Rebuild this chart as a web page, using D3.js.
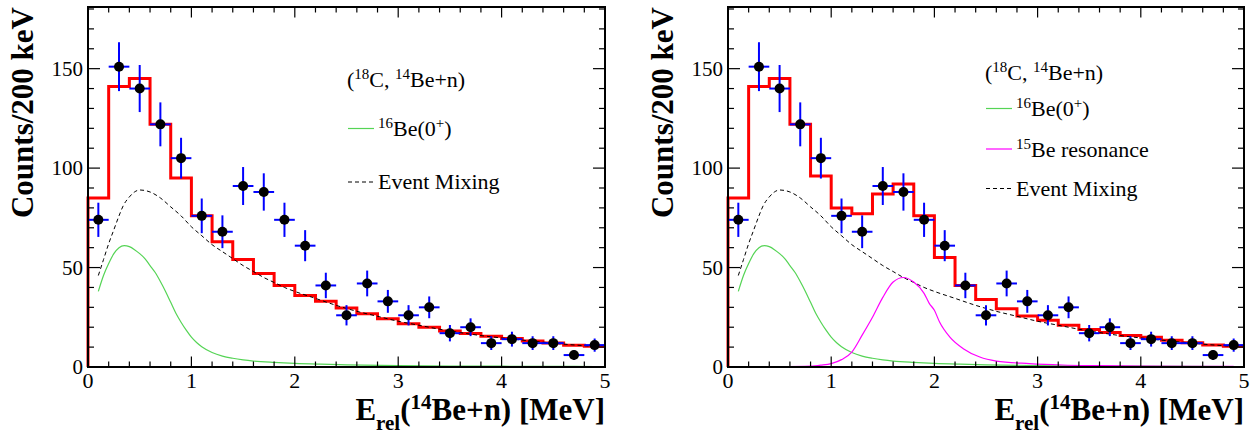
<!DOCTYPE html>
<html><head><meta charset="utf-8">
<script src="https://cdn.jsdelivr.net/npm/d3@7"></script>
<style>
body{margin:0;background:#fff}
svg{display:block}
text{font-family:"Liberation Serif","Times New Roman",Times,serif;fill:#000}
</style>
</head><body>
<svg id="c" width="1257" height="435"></svg>
<script>
// ---------- data ----------
const binEdges = [0,0.2,0.4,0.6,0.8,1.0,1.2,1.4,1.6,1.8,2.0,2.2,2.4,2.6,2.8,3.0,3.2,3.4,3.6,3.8,4.0,4.2,4.4,4.6,4.8,5.0];
const counts = [74,151,140,122,105,76,68,91,88,74,61,41,26,42,33,26,30,17,20,12,14,12,12,6,11];
const fitLeft  = [85,141,145,122,95,76,63,54,47,41,36,33,29.7,26.8,24.3,21.8,20,18.1,16.8,15.4,14.3,13.1,12.1,10.9,10.4];
const fitRight = [85,141,145,122,96,80,77,87,92,76,55,41,33.9,29.3,25.6,23.5,21,18.8,17.3,15.9,15,13.4,12.2,11,10.4];
const mixX = [0.1,0.15,0.2,0.25,0.3,0.34,0.4,0.45,0.5,0.6,0.7,0.8,0.9,1.0,1.1,1.2,1.3,1.4,1.5,1.6,1.7,1.8,1.9,2.0,2.2,2.4,2.6,2.8,3.0,3.2,3.4,3.6,3.8,4.0,4.2,4.4,4.6,4.8,4.9];
const mixY = [46,54,62,69,76,81,85.5,88,89,88,85,80.5,76,70.5,66,61.5,58,54.5,51,48,45,42.5,40,38,34.5,31,28,25.5,23,21,19,17.3,15.8,14.6,13.5,12.5,11.5,10.7,10.3];
const be16X = [0.1,0.15,0.2,0.25,0.3,0.35,0.4,0.45,0.5,0.55,0.6,0.65,0.7,0.75,0.8,0.85,0.9,0.95,1.0,1.05,1.1,1.2,1.3,1.4,1.5,1.6,1.8,2.0,2.25,2.5,3.0,3.5,4.0,4.5,4.9];
const be16Y = [38,46,52,57,60,61,60.5,59,57,54.5,51,47.5,43,38,32.5,27,22.5,18.5,15,12.3,10.2,7.3,5.5,4.4,3.6,3.0,2.3,1.8,1.4,1.1,0.7,0.5,0.4,0.3,0.25];
const be15X = [0.1,0.5,0.8,0.9,1.0,1.1,1.2,1.3,1.4,1.5,1.6,1.7,1.8,1.9,1.95,2.0,2.05,2.15,2.28,2.44,2.6,2.92,3.24,3.6,4.0,4.5,4.9];
const be15Y = [0,0.1,0.4,0.9,1.7,3.7,7.5,16,25,35,42.7,45,42.7,37,32,28.5,22.6,15,9.2,5,3,1.7,1.0,0.7,0.5,0.35,0.3];
const xTicks = [0,1,2,3,4,5];
const yTicks = [0,50,100,150];

// ---------- drawing ----------
const svg = d3.select("#c");
const yTop = 7, yBot = 367;
const yMax = 181;

const panels = [
  {left:88, right:605, fit:fitLeft, be15:false,
   leg:{tx:347, ty:87, items:[
     {type:"green", ly:128.5, ty:136, label:"be16"},
     {type:"dash", ly:182, ty:189, label:"mix"}]}},
  {left:728, right:1244, fit:fitRight, be15:true,
   leg:{tx:985, ty:80, items:[
     {type:"green", ly:108.5, ty:116, label:"be16"},
     {type:"magenta", ly:149, ty:157, label:"be15"},
     {type:"dash", ly:188.5, ty:196, label:"mix"}]}}
];

const colors = {green:"#55d455", magenta:"#ff00ff", dash:"#000"};

panels.forEach(p => {
  const x = d3.scaleLinear().domain([0,5]).range([p.left, p.right]);
  const y = d3.scaleLinear().domain([0,yMax]).range([yBot, yTop]);
  const g = svg.append("g");

  // histogram (fit sum)
  const pts = [[binEdges[0],0]];
  p.fit.forEach((v,i) => { pts.push([binEdges[i],v]); pts.push([binEdges[i+1],v]); });
  const line = d3.line().x(d=>x(d[0])).y(d=>y(d[1]));
  g.append("path").attr("d", line(pts)).attr("fill","none")
    .attr("stroke","#ff0000").attr("stroke-width",3).attr("stroke-linejoin","miter");

  const curve = d3.line().x(d=>x(d[0])).y(d=>y(d[1])).curve(d3.curveMonotoneX);
  g.append("path").attr("d", curve(mixX.map((v,i)=>[v,mixY[i]]))).attr("fill","none")
    .attr("stroke","#000").attr("stroke-width",1).attr("stroke-dasharray","4,3");
  g.append("path").attr("d", curve(be16X.map((v,i)=>[v,be16Y[i]]))).attr("fill","none")
    .attr("stroke",colors.green).attr("stroke-width",1.2);
  if (p.be15) {
    g.append("path").attr("d", curve(be15X.map((v,i)=>[v,be15Y[i]]))).attr("fill","none")
      .attr("stroke",colors.magenta).attr("stroke-width",1.2);
  }

  // data points with errors
  counts.forEach((c,i) => {
    const lo = binEdges[i], hi = binEdges[i+1], cx = (lo+hi)/2, e = Math.sqrt(c);
    g.append("line").attr("x1",x(lo)).attr("x2",x(hi)).attr("y1",y(c)).attr("y2",y(c))
      .attr("stroke","#0000ff").attr("stroke-width",2);
    g.append("line").attr("x1",x(cx)).attr("x2",x(cx)).attr("y1",y(c-e)).attr("y2",y(c+e))
      .attr("stroke","#0000ff").attr("stroke-width",2);
    g.append("circle").attr("cx",x(cx)).attr("cy",y(c)).attr("r",5).attr("fill","#000");
  });

  // ticks (all four sides, inside)
  const tk = svg.append("g").attr("stroke","#000").attr("stroke-width",1.2);
  const xMinor = d3.range(0,5.0001,0.2);
  xMinor.forEach(v => {
    const major = Math.abs(v - Math.round(v)) < 1e-6;
    const L = major ? 10.5 : 5.5;
    tk.append("line").attr("x1",x(v)).attr("x2",x(v)).attr("y1",yBot).attr("y2",yBot-L);
    tk.append("line").attr("x1",x(v)).attr("x2",x(v)).attr("y1",yTop).attr("y2",yTop+L);
  });
  d3.range(0,yMax,10).forEach(v => {
    const major = v % 50 === 0;
    const L = major ? 12 : 6;
    tk.append("line").attr("y1",y(v)).attr("y2",y(v)).attr("x1",p.left).attr("x2",p.left+L);
    tk.append("line").attr("y1",y(v)).attr("y2",y(v)).attr("x1",p.right).attr("x2",p.right-L);
  });

  // frame
  svg.append("rect").attr("x",p.left).attr("y",yTop).attr("width",p.right-p.left).attr("height",yBot-yTop)
    .attr("fill","none").attr("stroke","#000").attr("stroke-width",2);

  // tick labels
  xTicks.forEach(v => svg.append("text").attr("x",x(v)).attr("y",388).attr("text-anchor","middle")
    .attr("font-size",22).text(d3.format("d")(v)));
  yTicks.forEach(v => svg.append("text").attr("x",p.left-5).attr("y",y(v)).attr("dy","0.35em")
    .attr("text-anchor","end").attr("font-size",21).text(d3.format("d")(v)));

  // axis titles
  svg.append("text").attr("transform",`translate(${p.left-55},${yTop}) rotate(-90)`)
    .attr("text-anchor","end").attr("font-size",31).attr("font-weight","bold").text("Counts/200 keV");
  const xt = svg.append("text").attr("x",p.right).attr("y",420).attr("text-anchor","end")
    .attr("font-size",31).attr("font-weight","bold");
  xt.append("tspan").text("E");
  xt.append("tspan").attr("font-size",21).attr("dy",10).text("rel");
  xt.append("tspan").attr("dy",-10).text("(");
  xt.append("tspan").attr("font-size",21).attr("dy",-11).text("14");
  xt.append("tspan").attr("dy",11).text("Be+n) [MeV]");

  // legend
  const lt = svg.append("text").attr("x",p.leg.tx).attr("y",p.leg.ty).attr("font-size",22);
  lt.append("tspan").text("(");
  lt.append("tspan").attr("font-size",15).attr("dy",-8).text("18");
  lt.append("tspan").attr("dy",8).text("C, ");
  lt.append("tspan").attr("font-size",15).attr("dy",-8).text("14");
  lt.append("tspan").attr("dy",8).text("Be+n)");

  p.leg.items.forEach(it => {
    const lx0 = p.leg.tx + 1, lx1 = p.leg.tx + 27;
    const ln = svg.append("line").attr("x1",lx0).attr("x2",lx1).attr("y1",it.ly).attr("y2",it.ly)
      .attr("stroke",colors[it.type]).attr("stroke-width",1.2);
    if (it.type === "dash") ln.attr("stroke-dasharray","4,3").attr("stroke-width",1);
    const t = svg.append("text").attr("x",p.leg.tx + 31).attr("y",it.ty).attr("font-size",22);
    if (it.label === "be16") {
      t.append("tspan").attr("font-size",15).attr("dy",-8).text("16");
      t.append("tspan").attr("dy",8).text("Be(0");
      t.append("tspan").attr("font-size",15).attr("dy",-8).text("+");
      t.append("tspan").attr("dy",8).text(")");
    } else if (it.label === "be15") {
      t.append("tspan").attr("font-size",15).attr("dy",-8).text("15");
      t.append("tspan").attr("dy",8).text("Be resonance");
    } else {
      t.text("Event Mixing");
    }
  });
});
</script>
</body></html>
